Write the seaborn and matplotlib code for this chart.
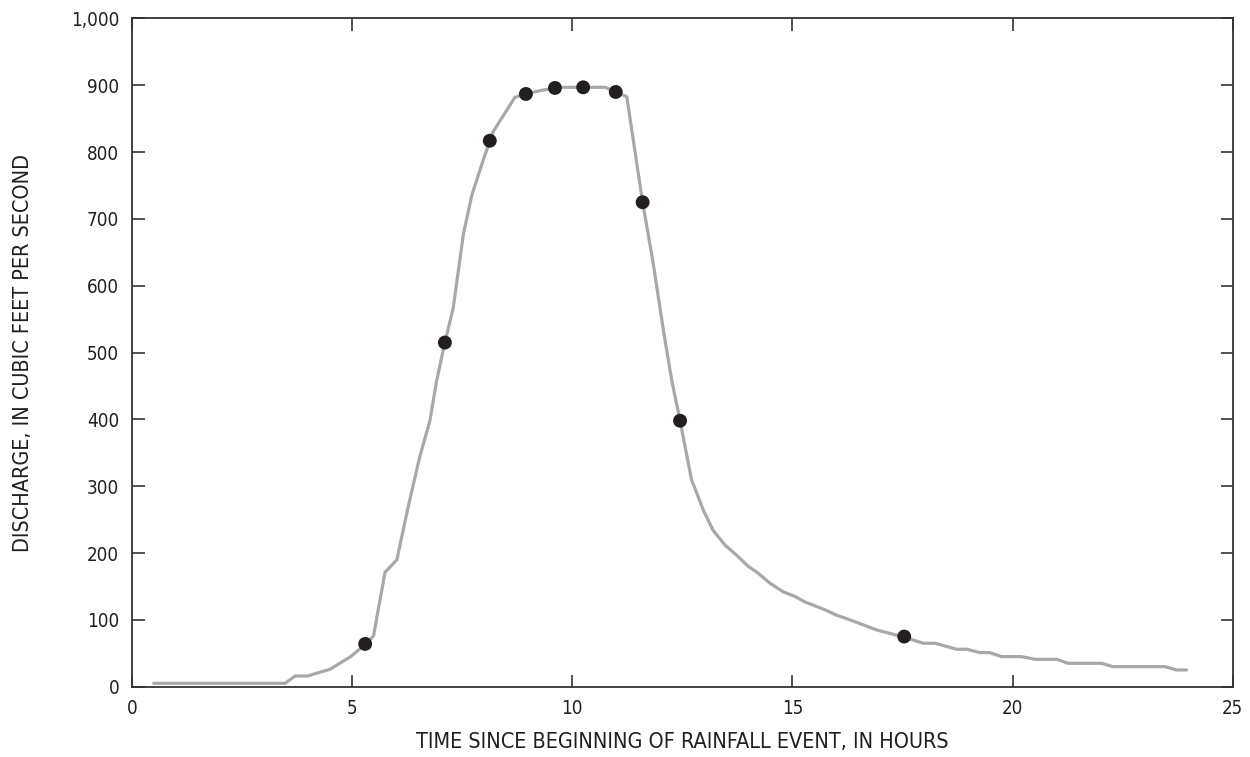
import matplotlib
matplotlib.use("Agg")
import matplotlib.pyplot as plt
import matplotlib.ticker as mticker
import seaborn as sns
import pandas as pd

# Continuous hydrograph (hours, cfs)
hours = [0.5, 3.48, 3.71, 3.99, 4.5, 4.97, 5.30, 5.49, 5.75, 6.02, 6.28, 6.54,
         6.77, 6.92, 7.11, 7.30, 7.53, 7.72, 7.98, 8.13, 8.21, 8.70, 8.95, 9.27,
         9.61, 9.72, 10.25, 10.75, 10.99, 11.24, 11.60, 11.84, 12.07, 12.26,
         12.45, 12.71, 12.98, 13.20, 13.47, 13.73, 14.00, 14.22, 14.49, 14.79,
         15.06, 15.28, 15.55, 15.78, 16.00, 16.27, 16.91, 17.37, 17.54, 17.97,
         18.24, 18.73, 18.96, 19.26, 19.48, 19.75, 20.20, 20.51, 21.00, 21.26,
         22.02, 22.28, 23.46, 23.72, 23.95]
discharge = [5, 5, 16, 16, 26, 45, 63, 76, 171, 190, 270, 344,
             398, 457, 515, 567, 677, 735, 788, 817, 831, 882, 887, 892,
             896, 897, 897, 897, 890, 883, 725, 634, 534, 459,
             398, 310, 264, 234, 212, 197, 180, 170, 155, 142,
             135, 127, 120, 114, 107, 101, 85, 77, 74, 65,
             65, 56, 56, 51, 51, 45, 45, 41, 41, 35,
             35, 30, 30, 25, 25]

# Sampled points
sample_hours = [5.30, 7.11, 8.13, 8.95, 9.61, 10.25, 10.99, 11.60, 12.45, 17.54]
sample_discharge = [64, 515, 817, 887, 896, 897, 890, 725, 398, 75]

x_ticks = [0, 5, 10, 15, 20, 25]
y_ticks = [0, 100, 200, 300, 400, 500, 600, 700, 800, 900, 1000]

xlabel = "TIME SINCE BEGINNING OF RAINFALL EVENT, IN HOURS"
ylabel = "DISCHARGE, IN CUBIC FEET PER SECOND"

sns.set_style("ticks")
plt.rcParams["font.family"] = ["DejaVu Sans"]
plt.rcParams["font.stretch"] = "condensed"

text_color = "#231f20"
spine_color = "#333333"

fig = plt.figure(figsize=(12.5, 7.57), dpi=100)
ax = fig.add_axes([0.1054, 0.0929, 0.8808, 0.8827])

line_df = pd.DataFrame({"hours": hours, "discharge": discharge})
pts_df = pd.DataFrame({"hours": sample_hours, "discharge": sample_discharge})

sns.lineplot(data=line_df, x="hours", y="discharge", ax=ax, color="#a7a8aa",
             linewidth=2.3, sort=False, estimator=None, zorder=2)
sns.scatterplot(data=pts_df, x="hours", y="discharge", ax=ax, color=text_color,
                s=100, edgecolor="none", zorder=3)

ax.set_xlim(0, 25)
ax.set_ylim(0, 1000)
ax.set_xticks(x_ticks)
ax.set_yticks(y_ticks)
ax.yaxis.set_major_formatter(mticker.StrMethodFormatter("{x:,.0f}"))

for s in ax.spines.values():
    s.set_visible(True)
    s.set_color(spine_color)
    s.set_linewidth(1.3)

ax.tick_params(axis="both", which="major", direction="in", length=9,
               width=1.2, color=spine_color, labelsize=13.5, labelcolor=text_color,
               top=True, right=True)
ax.tick_params(axis="x", pad=9)
ax.tick_params(axis="y", pad=9)

ax.set_xlabel(xlabel, fontsize=15.5, color=text_color, labelpad=10)
ax.set_ylabel(ylabel, fontsize=15.5, color=text_color, labelpad=27)

fig.savefig("out.png", dpi=100)
